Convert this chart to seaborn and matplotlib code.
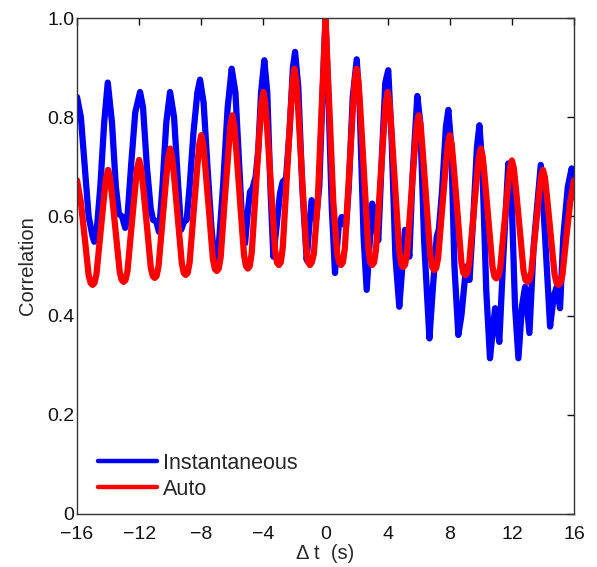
import matplotlib
matplotlib.use("Agg")
import matplotlib.pyplot as plt
import seaborn as sns

# ---- data ----
blue_x = [-16.0, -15.75, -15.5, -15.25, -15.0, -14.89, -14.75, -14.5, -14.25, -14.02,
          -13.75, -13.5, -13.3, -13.1, -12.9, -12.75, -12.5, -12.25, -11.94, -11.75,
          -11.5, -11.25, -11.1, -10.9, -10.72, -10.5, -10.25, -10.01, -9.75, -9.5,
          -9.3, -9.1, -8.94, -8.75, -8.5, -8.25, -8.08, -7.85, -7.6, -7.35,
          -7.11, -6.9, -6.6, -6.3, -6.04, -5.8, -5.55, -5.35, -5.18, -5.0,
          -4.86, -4.7, -4.5, -4.33, -4.15, -3.94, -3.75, -3.55, -3.36, -3.15,
          -2.93, -2.76, -2.54, -2.3, -2.1, -1.96, -1.75, -1.5, -1.21, -1.05,
          -0.89, -0.75, -0.61, -0.4, -0.2, 0.0, 0.2, 0.4, 0.61, 0.85,
          1.04, 1.2, 1.32, 1.5, 1.75, 2.01, 2.2, 2.45, 2.65, 2.85,
          3.01, 3.2, 3.40, 3.6, 3.85, 4.04, 4.25, 4.5, 4.75, 4.95,
          5.12, 5.25, 5.40, 5.6, 5.91, 6.1, 6.35, 6.69, 6.9, 7.16,
          7.3, 7.5, 7.75, 7.91, 8.1, 8.3, 8.55, 8.75, 9.05, 9.27,
          9.5, 9.75, 9.91, 10.1, 10.35, 10.59, 10.8, 10.92, 11.19, 11.45,
          11.77, 12.0, 12.2, 12.42, 12.65, 12.85, 13.13, 13.4, 13.86, 14.1,
          14.46, 14.7, 14.89, 15.10, 15.31, 15.6, 15.85, 16.0]
blue_y = [0.841, 0.80, 0.70, 0.60, 0.56, 0.549, 0.565, 0.66, 0.79, 0.870,
          0.79, 0.66, 0.605, 0.60, 0.577, 0.60, 0.71, 0.81, 0.851, 0.82,
          0.70, 0.615, 0.593, 0.59, 0.569, 0.66, 0.79, 0.851, 0.80, 0.67,
          0.573, 0.59, 0.593, 0.66, 0.77, 0.85, 0.876, 0.83, 0.70, 0.58,
          0.499, 0.53, 0.66, 0.82, 0.898, 0.85, 0.70, 0.58, 0.546, 0.61,
          0.650, 0.657, 0.68, 0.734, 0.85, 0.915, 0.85, 0.66, 0.519, 0.58,
          0.647, 0.670, 0.677, 0.78, 0.90, 0.932, 0.86, 0.66, 0.512, 0.58,
          0.633, 0.615, 0.593, 0.66, 0.84, 1.0, 0.83, 0.62, 0.486, 0.58,
          0.599, 0.585, 0.579, 0.66, 0.84, 0.917, 0.82, 0.56, 0.452, 0.55,
          0.626, 0.58, 0.552, 0.70, 0.87, 0.895, 0.76, 0.52, 0.418, 0.50,
          0.573, 0.545, 0.519, 0.68, 0.843, 0.79, 0.55, 0.354, 0.45, 0.559,
          0.575, 0.65, 0.78, 0.815, 0.74, 0.50, 0.361, 0.40, 0.499, 0.472,
          0.59, 0.74, 0.784, 0.70, 0.45, 0.314, 0.38, 0.415, 0.347, 0.52,
          0.707, 0.62, 0.42, 0.314, 0.42, 0.458, 0.365, 0.54, 0.704, 0.58,
          0.378, 0.44, 0.458, 0.415, 0.559, 0.66, 0.697, 0.640]

red_x = [-16.0, -15.75, -15.5, -15.25, -15.125, -15.0, -14.875, -14.75, -14.5, -14.25, -14.125, -14.0,
         -13.875, -13.75, -13.5, -13.25, -13.125, -13.0, -12.875, -12.75, -12.5, -12.25, -12.125, -12.0,
         -11.875, -11.75, -11.5, -11.25, -11.125, -11.0, -10.875, -10.75, -10.5, -10.25, -10.125, -10.0,
         -9.875, -9.75, -9.5, -9.25, -9.125, -9.0, -8.875, -8.75, -8.5, -8.25, -8.125, -8.0,
         -7.875, -7.75, -7.5, -7.25, -7.125, -7.0, -6.875, -6.75, -6.5, -6.25, -6.125, -6.0,
         -5.875, -5.75, -5.5, -5.25, -5.125, -5.0, -4.875, -4.75, -4.5, -4.25, -4.125, -4.0,
         -3.875, -3.75, -3.5, -3.25, -3.125, -3.0, -2.875, -2.75, -2.5, -2.25, -2.125, -2.0,
         -1.875, -1.75, -1.5, -1.25, -1.125, -1.0, -0.875, -0.75, -0.5, -0.25, -0.125, 0.0,
         0.125, 0.25, 0.5, 0.75, 0.875, 1.0, 1.125, 1.25, 1.5, 1.75, 1.875, 2.0,
         2.125, 2.25, 2.5, 2.75, 2.875, 3.0, 3.125, 3.25, 3.5, 3.75, 3.875, 4.0,
         4.125, 4.25, 4.5, 4.75, 4.875, 5.0, 5.125, 5.25, 5.5, 5.75, 5.875, 6.0,
         6.125, 6.25, 6.5, 6.75, 6.875, 7.0, 7.125, 7.25, 7.5, 7.75, 7.875, 8.0,
         8.125, 8.25, 8.5, 8.75, 8.875, 9.0, 9.125, 9.25, 9.5, 9.75, 9.875, 10.0,
         10.125, 10.25, 10.5, 10.75, 10.875, 11.0, 11.125, 11.25, 11.5, 11.75, 11.875, 12.0,
         12.125, 12.25, 12.5, 12.75, 12.875, 13.0, 13.125, 13.25, 13.5, 13.75, 13.875, 14.0,
         14.125, 14.25, 14.5, 14.75, 14.875, 15.0, 15.125, 15.25, 15.5, 15.75, 16.0]
red_y = [0.673, 0.628, 0.556, 0.481, 0.466, 0.462, 0.466, 0.483, 0.564, 0.643, 0.679, 0.694,
         0.679, 0.644, 0.567, 0.488, 0.472, 0.468, 0.472, 0.490, 0.576, 0.659, 0.698, 0.714,
         0.698, 0.662, 0.581, 0.497, 0.480, 0.476, 0.480, 0.500, 0.591, 0.680, 0.720, 0.737,
         0.720, 0.681, 0.594, 0.505, 0.486, 0.482, 0.486, 0.507, 0.606, 0.702, 0.746, 0.764,
         0.746, 0.703, 0.610, 0.514, 0.494, 0.490, 0.495, 0.518, 0.628, 0.734, 0.784, 0.804,
         0.784, 0.736, 0.631, 0.523, 0.500, 0.495, 0.500, 0.527, 0.651, 0.772, 0.828, 0.851,
         0.828, 0.774, 0.656, 0.533, 0.507, 0.502, 0.508, 0.538, 0.676, 0.811, 0.872, 0.898,
         0.872, 0.811, 0.676, 0.538, 0.508, 0.502, 0.508, 0.525, 0.630, 0.816, 0.905, 1.000,
         0.905, 0.816, 0.630, 0.525, 0.508, 0.502, 0.508, 0.538, 0.676, 0.811, 0.872, 0.898,
         0.872, 0.811, 0.676, 0.538, 0.508, 0.502, 0.507, 0.533, 0.656, 0.774, 0.828, 0.851,
         0.828, 0.773, 0.653, 0.530, 0.503, 0.498, 0.503, 0.526, 0.633, 0.737, 0.784, 0.804,
         0.784, 0.735, 0.629, 0.520, 0.497, 0.492, 0.496, 0.516, 0.612, 0.704, 0.746, 0.764,
         0.746, 0.702, 0.606, 0.507, 0.486, 0.482, 0.486, 0.505, 0.594, 0.681, 0.720, 0.737,
         0.720, 0.679, 0.590, 0.499, 0.479, 0.475, 0.479, 0.496, 0.580, 0.661, 0.697, 0.713,
         0.697, 0.659, 0.576, 0.490, 0.472, 0.468, 0.472, 0.488, 0.567, 0.644, 0.679, 0.694,
         0.679, 0.643, 0.564, 0.483, 0.466, 0.462, 0.466, 0.481, 0.556, 0.628, 0.673]

x_ticks = [-16, -12, -8, -4, 0, 4, 8, 12, 16]
x_tick_labels = ["\u221216", "\u221212", "\u22128", "\u22124", "0", "4", "8", "12", "16"]
y_ticks = [0, 0.2, 0.4, 0.6, 0.8, 1.0]
y_tick_labels = ["0", "0.2", "0.4", "0.6", "0.8", "1.0"]
series_names = ["Instantaneous", "Auto"]

# ---- plot ----
sns.set_style("white")
plt.rcParams['font.family'] = ['Liberation Sans', 'DejaVu Sans']

fig = plt.figure(figsize=(5.97, 5.67), dpi=100)
ax = fig.add_axes([0.129, 0.0935, 0.8325, 0.8745])

sns.lineplot(x=blue_x, y=blue_y, color=(0, 0, 1), lw=4.5, label=series_names[0],
             ax=ax, estimator=None, sort=False, solid_joinstyle='round')
sns.lineplot(x=red_x, y=red_y, color=(1, 0, 0), lw=4.5, label=series_names[1],
             ax=ax, estimator=None, sort=False, solid_joinstyle='round')

ax.set_xlim(-16, 16)
ax.set_ylim(0, 1)
ax.set_xticks(x_ticks)
ax.set_xticklabels(x_tick_labels)
ax.set_yticks(y_ticks)
ax.set_yticklabels(y_tick_labels)
ax.tick_params(direction='in', top=True, right=True, length=5, width=1,
               labelsize=14, colors='#111111')
ax.tick_params(axis='x', pad=9)
ax.tick_params(axis='y', pad=2)
for s in ax.spines.values():
    s.set_color('#333333')
    s.set_linewidth(1.0)

ax.set_xlabel("\u0394 t  (s)", fontsize=14.5, labelpad=0.5)
ax.set_ylabel("Correlation", fontsize=14.5, labelpad=7)

leg = ax.legend(loc='lower left', bbox_to_anchor=(0.025, 0.0115), borderaxespad=0,
                frameon=False, fontsize=15.5, handlelength=2.74,
                handletextpad=0.28, labelspacing=0.22)
for line in leg.get_lines():
    line.set_linewidth(3.2)

fig.savefig("out.png", dpi=100)
